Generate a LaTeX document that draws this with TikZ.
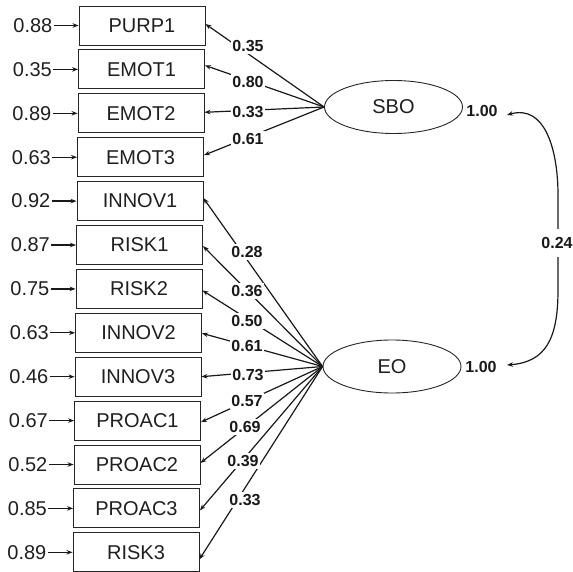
\documentclass[tikz,border=0pt]{standalone}
\usepackage{fontspec}
\setmainfont{Liberation Sans}
\usetikzlibrary{arrows.meta,calc,shapes.geometric}
\begin{document}
\begin{tikzpicture}[x=1pt,y=-1pt,
  obs/.style={draw=black!85,line width=0.9pt,minimum width=126pt,minimum height=39pt,inner sep=0pt,text=black!88,font=\fontsize{20}{20}\selectfont},
  lat/.style={draw=black!85,line width=0.9pt,ellipse,minimum width=138pt,minimum height=53pt,inner sep=0pt,text=black!88,font=\fontsize{20}{20}\selectfont},
  err/.style={anchor=east,inner xsep=1pt,inner ysep=0pt,text=black!88,font=\fontsize{20}{20}\selectfont},
  coef/.style={fill=white,inner xsep=1pt,inner ysep=2pt,text=black!90,font=\bfseries\fontsize{16}{16}\selectfont},
  varl/.style={inner sep=0pt,text=black!90,font=\bfseries\fontsize{16}{16}\selectfont},
  arr/.style={line width=1.2pt,draw=black!90,-{Stealth[length=6pt,width=4.5pt]}},
]
\useasboundingbox (0,0) rectangle (573,572);
% latent variables
\node[lat] (sbo) at (393.5,107) {SBO};
\node[lat] (eo) at (392,366.5) {EO};
% observed variables with errors
\foreach \t/\e/\d [count=\i from 0] in {PURP1/0.88/-1.5,EMOT1/0.35/-4,EMOT2/0.89/-1,EMOT3/0.63/-2,INNOV1/0.92/-3,RISK1/0.87/1,RISK2/0.75/1.5,INNOV2/0.63/0.5,INNOV3/0.46/0,PROAC1/0.67/1.5,PROAC2/0.52/-1.5,PROAC3/0.85/2,RISK3/0.89/7}{
  \node[obs] (b\i) at ({142-0.5*\i},{25.5+43.9*\i}) {\t};
  \node[err] (e\i) at ($(b\i.west)+(-25,0)$) {\e};
  \draw[arr] (e\i.east) -- (b\i.west);
  \coordinate (t\i) at ($(b\i.east)+(0,\d)$);
}
% loadings
\foreach \i in {0,...,3}{\draw[arr] (sbo.west) -- (t\i);}
\foreach \i in {4,...,12}{\draw[arr] (eo.west) -- (t\i);}
\node[coef] (l0) at (248,46) {0.35};
\node[coef] (l1) at (248,82) {0.80};
\node[coef] (l2) at (248,112) {0.33};
\node[coef] (l3) at (248,139) {0.61};
\node[coef] (l4) at (247,252) {0.28};
\node[coef] (l5) at (247,291) {0.36};
\node[coef] (l6) at (247,321) {0.50};
\node[coef] (l7) at (247,346) {0.61};
\node[coef] (l8) at (248,375) {0.73};
\node[coef] (l9) at (247,401) {0.57};
\node[coef] (l10) at (245,427) {0.69};
\node[coef] (l11) at (243,461) {0.39};
\node[coef] (l12) at (245,500) {0.33};
% variances
\node[varl] (v1) at (482,111) {1.00};
\node[varl] (v2) at (481,367) {1.00};
% covariance
\coordinate (c1) at (507,115);
\coordinate (c2) at (507,365);
\draw[line width=1.2pt,draw=black!90,{Stealth[length=6pt,width=4.5pt]}-{Stealth[length=6pt,width=4.5pt]}]
  (c1) .. controls (545,104) and (558,150) .. (558,195) -- (558,290) .. controls (558,340) and (545,362) .. (c2);
\node[coef,inner ysep=8pt] (cov) at (557,243) {0.24};
\end{tikzpicture}
\end{document}
